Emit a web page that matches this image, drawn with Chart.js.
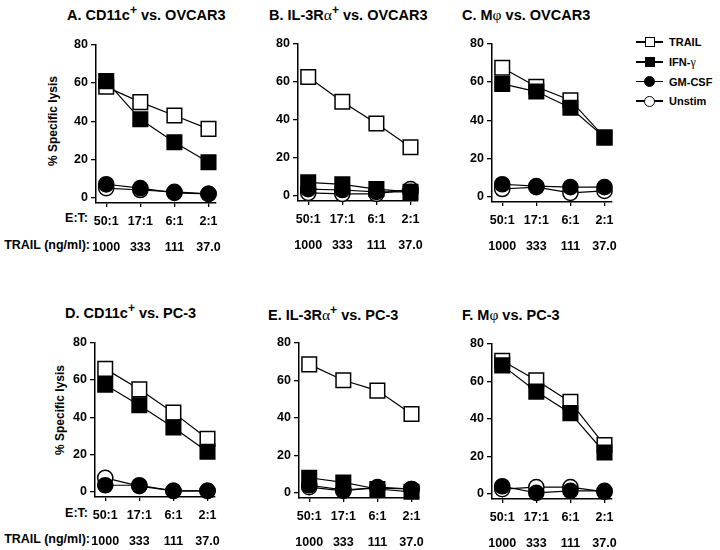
<!DOCTYPE html>
<html>
<head>
<meta charset="utf-8">
<script src="https://cdn.jsdelivr.net/npm/chart.js@4.4.1/dist/chart.umd.min.js"></script>
<style>
body { margin: 0; background: #fff; width: 720px; height: 550px; position: relative; overflow: hidden;
       font-family: "Liberation Sans", Arial, sans-serif; font-weight: bold; color: #000; }
.abs { position: absolute; white-space: nowrap; }
.title { font-size: 14.5px; line-height: 18px; }
.title sup { font-size: 12px; line-height: 0; vertical-align: 6px; }
.gk { font-family: "Liberation Serif", serif; font-weight: normal; font-size: 15.5px; }
.ylab { font-size: 12px; transform: translate(-50%, -50%) rotate(-90deg); }
.rowlab { font-size: 12.5px; line-height: 14px; text-align: right; transform: translateY(-50%); }
.leg { font-size: 11px; line-height: 14px; transform: translateY(-50%); }
canvas { position: absolute; }
</style>
</head>
<body>

<div class="abs title" style="left:67px;top:6px">A. CD11c<sup>+</sup> vs. OVCAR3</div>
<div class="abs title" style="left:269px;top:6px">B. IL-3R<span class="gk">α</span><sup>+</sup> vs. OVCAR3</div>
<div class="abs title" style="left:462px;top:6px">C. M<span class="gk">φ</span> vs. OVCAR3</div>
<div class="abs title" style="left:65px;top:304px">D. CD11c<sup>+</sup> vs. PC-3</div>
<div class="abs title" style="left:268px;top:306px">E. IL-3R<span class="gk">α</span><sup>+</sup> vs. PC-3</div>
<div class="abs title" style="left:462px;top:306px">F. M<span class="gk">φ</span> vs. PC-3</div>

<div class="abs ylab" style="left:53px;top:121px">% Specific lysis</div>
<div class="abs ylab" style="left:60px;top:410px">% Specific lysis</div>

<div class="abs rowlab" style="right:632px;top:218px">E:T:</div>
<div class="abs rowlab" style="right:630px;top:245px">TRAIL (ng/ml):</div>
<div class="abs rowlab" style="right:632px;top:513px">E:T:</div>
<div class="abs rowlab" style="right:630px;top:539px">TRAIL (ng/ml):</div>

<div id="legend"></div>

<canvas id="cA"></canvas>
<canvas id="cB"></canvas>
<canvas id="cC"></canvas>
<canvas id="cD"></canvas>
<canvas id="cE"></canvas>
<canvas id="cF"></canvas>

<script>
// tick labels
const etLabels = ['50:1', '17:1', '6:1', '2:1'];
const trailLabels = ['1000', '333', '111', '37.0'];
const yTicks = [0, 20, 40, 60, 80];
const seriesNames = ['TRAIL', 'IFN-γ', 'GM-CSF', 'Unstim'];

// A. CD11c+ vs OVCAR3
const aTrail = [58, 50, 43, 36];
const aIfn = [61, 41, 29, 18.5];
const aGm = [7, 5, 2.5, 2];
const aUnstim = [5, 4, 3, 2];

// B. IL-3Ra+ vs OVCAR3
const bTrail = [62.5, 49.5, 38, 25.5];
const bIfn = [7, 6, 3.5, 2];
const bGm = [3.5, 3, 2, 2];
const bUnstim = [1.5, 1, 1, 3.5];

// C. Mphi vs OVCAR3
const cTrail = [67.5, 57.5, 50.5, 31];
const cIfn = [59, 55, 46.5, 31];
const cGm = [6.5, 5.5, 5, 5];
const cUnstim = [4, 5, 2, 3];

// D. CD11c+ vs PC-3
const dTrail = [66, 55, 42.5, 28.5];
const dIfn = [57.5, 46.5, 34.5, 21.5];
const dGm = [3.5, 3.5, 0.5, 0.5];
const dUnstim = [7.5, 3, 0.5, 0.5];

// E. IL-3Ra+ vs PC-3
const eTrail = [68.5, 60, 54.5, 42];
const eIfn = [8, 5.5, 2, 0.5];
const eGm = [4, 1.5, 2.5, 2];
const eUnstim = [3, 1, 3, 2];

// F. Mphi vs PC-3
const fTrail = [71, 60.5, 49, 26];
const fIfn = [68.5, 54.5, 43, 22];
const fGm = [4, 0.5, 1.5, 1.5];
const fUnstim = [2.5, 3.5, 3.5, 1];

const Y_MIN = -2.8, Y_MAX = 80;
const AXIS_W = 40, PLOT_W = 120, PAD_TOP = 10, PAD_RIGHT = 20, X_AXIS_H = 55;

// panel placement: left edge of y axis, y of the 80 tick, y of the 0 tick
const panels = [
  { id: 'cA', left: 96, top: 42.5, zero: 196.7, data: [aTrail, aIfn, aGm, aUnstim] },
  { id: 'cB', left: 298, top: 41.7, zero: 195.7, data: [bTrail, bIfn, bGm, bUnstim] },
  { id: 'cC', left: 492, top: 42, zero: 197, data: [cTrail, cIfn, cGm, cUnstim] },
  { id: 'cD', left: 95, top: 340.5, zero: 491.7, data: [dTrail, dIfn, dGm, dUnstim] },
  { id: 'cE', left: 299, top: 340.7, zero: 492.5, data: [eTrail, eIfn, eGm, eUnstim] },
  { id: 'cF', left: 492, top: 341.5, zero: 493, data: [fTrail, fIfn, fGm, fUnstim] },
];

const styles = [
  { pointStyle: 'rect', radius: 10.3, fill: '#fff', order: 1 },
  { pointStyle: 'rect', radius: 10.3, fill: '#000', order: 0 },
  { pointStyle: 'circle', radius: 7.6, fill: '#000', order: 2 },
  { pointStyle: 'circle', radius: 7.6, fill: '#fff', order: 3 },
];

const FONT = { family: '"Liberation Sans", Arial, sans-serif', weight: 'bold', size: 12.5 };

function toPoints(arr) {
  return arr.map((v, i) => ({ x: i, y: v }));
}

function makePanel(p) {
  const plotH = (p.zero - p.top) * (Y_MAX - Y_MIN) / Y_MAX;
  const canvas = document.getElementById(p.id);
  const w = AXIS_W + PLOT_W + PAD_RIGHT;
  const h = Math.round(PAD_TOP + plotH + X_AXIS_H);
  canvas.width = w;
  canvas.height = h;
  canvas.style.width = w + 'px';
  canvas.style.height = h + 'px';
  canvas.style.left = (p.left - AXIS_W) + 'px';
  canvas.style.top = (p.top - PAD_TOP) + 'px';

  const datasets = p.data.map((vals, k) => ({
    label: seriesNames[k],
    data: toPoints(vals),
    borderColor: '#000',
    borderWidth: 1.2,
    pointStyle: styles[k].pointStyle,
    pointRadius: styles[k].radius,
    pointBackgroundColor: styles[k].fill,
    pointBorderColor: '#000',
    pointBorderWidth: 1.5,
    tension: 0,
    clip: false,
    order: styles[k].order,
  }));

  new Chart(canvas.getContext('2d'), {
    type: 'line',
    data: { datasets },
    options: {
      responsive: false,
      animation: false,
      devicePixelRatio: 1,
      layout: { padding: { top: PAD_TOP, right: PAD_RIGHT, left: 0, bottom: 0 } },
      plugins: { legend: { display: false }, tooltip: { enabled: false } },
      scales: {
        x: {
          type: 'linear',
          min: -0.3,
          max: 3.22,
          afterBuildTicks: s => { s.ticks = etLabels.map((_, i) => ({ value: i })); },
          afterFit: s => { s.height = X_AXIS_H; },
          ticks: {
            color: '#000',
            font: { ...FONT, lineHeight: 1.04 },
            padding: 8,
            maxRotation: 0,
            autoSkip: false,
            callback: (v, i) => [etLabels[i], '', trailLabels[i]],
          },
          grid: { drawOnChartArea: false, drawTicks: true, tickLength: 4, color: '#000', lineWidth: 1.3 },
          border: { display: true, color: '#000', width: 1.5 },
        },
        y: {
          min: Y_MIN,
          max: Y_MAX,
          afterBuildTicks: s => { s.ticks = yTicks.map(v => ({ value: v })); },
          afterFit: s => { s.width = AXIS_W; },
          ticks: { color: '#000', font: FONT, padding: 3 },
          grid: { drawOnChartArea: false, drawTicks: true, tickLength: 5, color: '#000', lineWidth: 1.3 },
          border: { display: true, color: '#000', width: 1.5 },
        },
      },
    },
  });
}

panels.forEach(makePanel);

// legend beside panel C
const legendY = [42, 62, 81.5, 101];
const legend = document.getElementById('legend');
seriesNames.forEach((name, k) => {
  const y = legendY[k];
  const line = document.createElement('div');
  line.className = 'abs';
  line.style.cssText = `left:636px;top:${y - 0.6}px;width:27px;height:1.2px;background:#000`;
  legend.appendChild(line);

  const mk = document.createElement('div');
  mk.className = 'abs';
  const sz = styles[k].pointStyle === 'rect' ? 10 : 11;
  mk.style.cssText = `left:${649.5 - sz / 2}px;top:${y - sz / 2}px;width:${sz}px;height:${sz}px;` +
    `box-sizing:border-box;border:1.5px solid #000;background:${styles[k].fill};` +
    (styles[k].pointStyle === 'circle' ? 'border-radius:50%;' : '');
  legend.appendChild(mk);

  const txt = document.createElement('div');
  txt.className = 'abs leg';
  txt.style.left = '669px';
  txt.style.top = y + 'px';
  txt.innerHTML = name === 'IFN-γ' ? 'IFN-<span class="gk" style="font-size:12px">γ</span>' : name;
  legend.appendChild(txt);
});
</script>
</body>
</html>
